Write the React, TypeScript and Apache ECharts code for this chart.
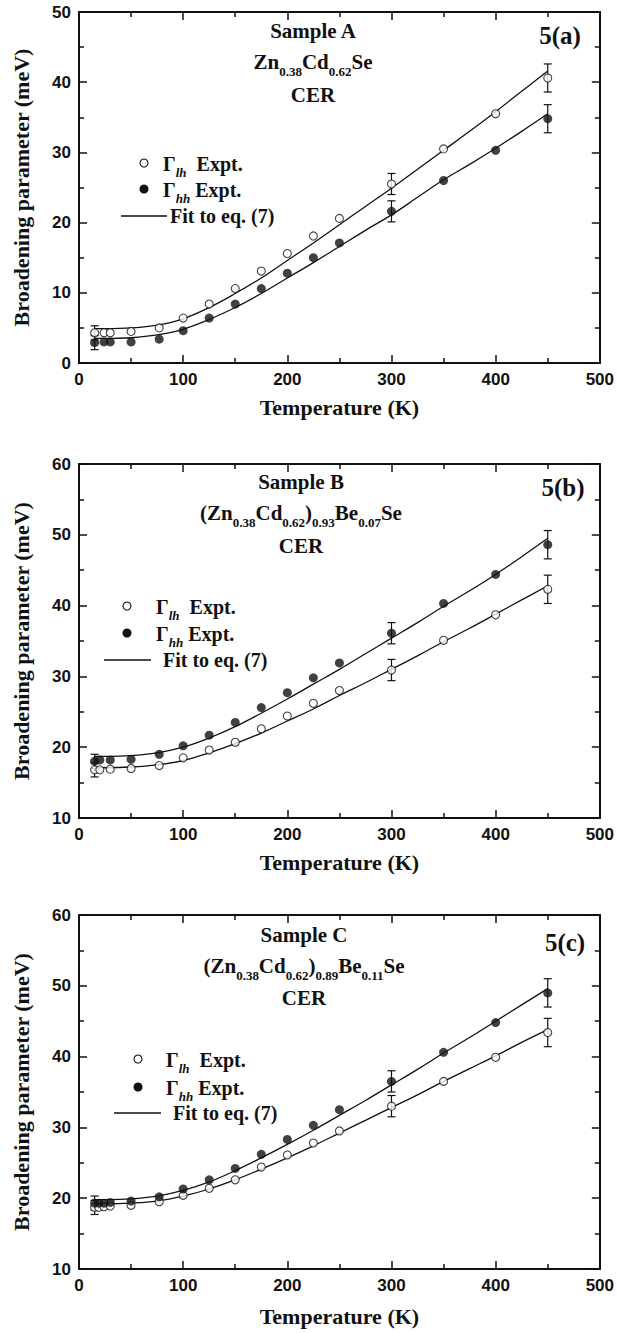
import React, { useEffect, useRef } from 'react';
import * as echarts from 'echarts';

// ---------- data ----------
const tempA = [15, 24, 30, 50, 77, 100, 125, 150, 175, 200, 225, 250, 300, 350, 400, 450];
const lhA = [4.3, 4.3, 4.3, 4.5, 5.0, 6.4, 8.4, 10.6, 13.1, 15.6, 18.1, 20.6, 25.5, 30.5, 35.5, 40.6];
const hhA = [2.9, 3.0, 3.0, 3.0, 3.4, 4.6, 6.4, 8.4, 10.6, 12.8, 15.0, 17.1, 21.6, 26.0, 30.3, 34.8];

const tempB = [15, 20, 30, 50, 77, 100, 125, 150, 175, 200, 225, 250, 300, 350, 400, 450];
const lhB = [16.8, 16.8, 16.9, 17.0, 17.4, 18.5, 19.6, 20.7, 22.6, 24.4, 26.2, 28.0, 30.9, 35.1, 38.7, 42.3];
const hhB = [18.0, 18.2, 18.2, 18.3, 19.0, 20.2, 21.7, 23.5, 25.6, 27.7, 29.8, 31.9, 36.1, 40.3, 44.4, 48.6];

const tempC = [15, 19, 24, 30, 50, 77, 100, 125, 150, 175, 200, 225, 250, 300, 350, 400, 450];
const lhC = [18.7, 18.7, 18.8, 18.9, 19.0, 19.5, 20.4, 21.4, 22.6, 24.4, 26.1, 27.8, 29.5, 33.0, 36.5, 39.9, 43.4];
const hhC = [19.3, 19.3, 19.3, 19.4, 19.6, 20.2, 21.3, 22.6, 24.2, 26.2, 28.3, 30.3, 32.5, 36.5, 40.6, 44.8, 49.0];

const fitTemp = [15, 25, 50, 75, 100, 125, 150, 175, 200, 225, 250, 275, 300, 325, 350, 375, 400, 425, 450];
const fitLhA = [4.9, 4.9, 5.0, 5.4, 6.3, 7.9, 9.9, 12.1, 14.6, 17.1, 19.7, 22.3, 24.9, 27.6, 30.3, 33.0, 35.8, 38.7, 41.6];
const fitHhA = [3.5, 3.5, 3.6, 4.0, 4.8, 6.2, 7.9, 9.9, 12.1, 14.3, 16.6, 18.9, 21.1, 23.6, 26.1, 28.3, 30.6, 33.0, 35.5];
const fitLhB = [17.1, 17.1, 17.2, 17.5, 18.1, 19.2, 20.5, 22.0, 23.7, 25.4, 27.3, 29.1, 31.0, 32.9, 34.9, 36.8, 38.8, 40.8, 42.8];
const fitHhB = [18.7, 18.7, 18.8, 19.2, 20.0, 21.3, 22.9, 24.8, 26.8, 28.9, 31.0, 33.2, 35.4, 37.6, 39.9, 42.1, 44.4, 46.9, 49.5];
const fitLhC = [19.2, 19.2, 19.3, 19.6, 20.3, 21.3, 22.6, 24.1, 25.7, 27.4, 29.2, 31.0, 32.8, 34.6, 36.5, 38.3, 40.1, 42.0, 43.8];
const fitHhC = [19.8, 19.8, 19.9, 20.3, 21.1, 22.3, 23.9, 25.7, 27.6, 29.6, 31.7, 33.8, 36.0, 38.2, 40.5, 42.7, 45.0, 47.3, 49.6];

const errTemp = [15, 300, 450];
const errSize = [1.0, 1.5, 2.0];

const xTicks = { min: 0, max: 500, interval: 100 };
const yRangeA = { min: 0, max: 50, interval: 10 };
const yRangeB = { min: 10, max: 60, interval: 10 };
const yRangeC = { min: 10, max: 60, interval: 10 };

const panelLabels = ['5(a)', '5(b)', '5(c)'];
const sampleNames = ['Sample A', 'Sample B', 'Sample C'];
const methodLabel = 'CER';
const xTitle = 'Temperature (K)';
const yTitle = 'Broadening parameter (meV)';
const legendLh = 'Expt.';
const legendFit = 'Fit to eq. (7)';

// ---------- style ----------
const INK = '#111111';
const SERIF = '"Liberation Serif", "Times New Roman", serif';
const SANS = '"Liberation Sans", Arial, sans-serif';

const grids = [
  { left: 79, top: 12, width: 521, height: 351 },
  { left: 79, top: 464, width: 521, height: 354 },
  { left: 79, top: 915, width: 521, height: 354 },
];

const panels = [
  { t: tempA, lh: lhA, hh: hhA, fLh: fitLhA, fHh: fitHhA, y: yRangeA },
  { t: tempB, lh: lhB, hh: hhB, fLh: fitLhB, fHh: fitHhB, y: yRangeB },
  { t: tempC, lh: lhC, hh: hhC, fLh: fitLhC, fHh: fitHhC, y: yRangeC },
];

const formulaRich = [
  '{m|Zn}{s|0.38}{m|Cd}{s|0.62}{m|Se}',
  '{m|(Zn}{s|0.38}{m|Cd}{s|0.62}{m|)}{s|0.93}{m|Be}{s|0.07}{m|Se}',
  '{m|(Zn}{s|0.38}{m|Cd}{s|0.62}{m|)}{s|0.89}{m|Be}{s|0.11}{m|Se}',
];

// annotation layout (pixels)
const annot = [
  { cx: 313, sY: 31, fY: 62, cY: 95, lx: 560, ly: 35, legX: 144, legY: [163, 189, 216], lineX: [121, 167], textX: 160 },
  { cx: 301, sY: 482, fY: 513, cY: 546, lx: 563, ly: 487, legX: 127, legY: [606, 633, 660], lineX: [104, 151], textX: 153 },
  { cx: 304, sY: 935, fY: 966, cY: 998, lx: 565, ly: 942, legX: 138, legY: [1059, 1087, 1113], lineX: [114, 161], textX: 163 },
];

function axisCommon(extra: any) {
  return {
    type: 'value',
    splitLine: { show: false },
    axisLine: { show: true, onZero: false, lineStyle: { color: INK, width: 2 } },
    axisTick: { show: true, inside: true, length: 8, lineStyle: { color: INK, width: 1.5 } },
    minorTick: { show: true, splitNumber: 2, length: 5, lineStyle: { color: INK, width: 1.5 } },
    ...extra,
  };
}

function buildOption() {
  const xAxis: any[] = [];
  const yAxis: any[] = [];
  const series: any[] = [];
  const graphic: any[] = [];

  panels.forEach((p, i) => {
    xAxis.push(
      axisCommon({
        gridIndex: i,
        position: 'bottom',
        ...xTicks,
        axisLabel: { margin: 8, color: INK, fontFamily: SANS, fontWeight: 'bold', fontSize: 17 },
        name: xTitle,
        nameLocation: 'middle',
        nameGap: i === 2 ? 36 : 33,
        nameTextStyle: { color: INK, fontFamily: SERIF, fontWeight: 'bold', fontSize: 22 },
      })
    );
    xAxis.push(
      axisCommon({ gridIndex: i, position: 'top', ...xTicks, axisLabel: { show: false } })
    );
    yAxis.push(
      axisCommon({
        gridIndex: i,
        position: 'left',
        ...p.y,
        axisLabel: { margin: 8, color: INK, fontFamily: SANS, fontWeight: 'bold', fontSize: 17 },
        name: yTitle,
        nameLocation: 'middle',
        nameGap: 47,
        nameTextStyle: { color: INK, fontFamily: SERIF, fontWeight: 'bold', fontSize: 22 },
      })
    );
    yAxis.push(
      axisCommon({ gridIndex: i, position: 'right', ...p.y, axisLabel: { show: false } })
    );

    const xi = i * 2;
    const yi = i * 2;

    const errData: number[][] = [];
    errTemp.forEach((t, k) => {
      const idx = p.t.indexOf(t);
      errData.push([t, p.lh[idx] - errSize[k], p.lh[idx] + errSize[k]]);
      errData.push([t, p.hh[idx] - errSize[k], p.hh[idx] + errSize[k]]);
    });

    series.push({
      type: 'line',
      xAxisIndex: xi,
      yAxisIndex: yi,
      data: fitTemp.map((t, k) => [t, p.fLh[k]]),
      smooth: 0.4,
      showSymbol: false,
      lineStyle: { color: INK, width: 1.3 },
      z: 2,
    });
    series.push({
      type: 'line',
      xAxisIndex: xi,
      yAxisIndex: yi,
      data: fitTemp.map((t, k) => [t, p.fHh[k]]),
      smooth: 0.4,
      showSymbol: false,
      lineStyle: { color: INK, width: 1.3 },
      z: 2,
    });
    series.push({
      type: 'custom',
      xAxisIndex: xi,
      yAxisIndex: yi,
      data: errData,
      z: 3,
      renderItem: (params: any, api: any) => {
        const x = api.value(0);
        const lo = api.coord([x, api.value(1)]);
        const hi = api.coord([x, api.value(2)]);
        const w = 4;
        const st = { stroke: INK, lineWidth: 1.2 };
        return {
          type: 'group',
          children: [
            { type: 'line', shape: { x1: lo[0], y1: lo[1], x2: hi[0], y2: hi[1] }, style: st },
            { type: 'line', shape: { x1: lo[0] - w, y1: lo[1], x2: lo[0] + w, y2: lo[1] }, style: st },
            { type: 'line', shape: { x1: hi[0] - w, y1: hi[1], x2: hi[0] + w, y2: hi[1] }, style: st },
          ],
        };
      },
    });
    series.push({
      type: 'scatter',
      xAxisIndex: xi,
      yAxisIndex: yi,
      data: p.t.map((t, k) => [t, p.lh[k]]),
      symbol: 'circle',
      symbolSize: 8,
      itemStyle: { color: '#ffffff', borderColor: INK, borderWidth: 1.1 },
      z: 4,
    });
    series.push({
      type: 'scatter',
      xAxisIndex: xi,
      yAxisIndex: yi,
      data: p.t.map((t, k) => [t, p.hh[k]]),
      symbol: 'circle',
      symbolSize: 9,
      itemStyle: { color: INK, borderWidth: 0 },
      z: 4,
    });

    // annotations
    const a = annot[i];
    const mainFont = { fill: INK, fontFamily: SERIF, fontWeight: 'bold' };
    graphic.push({
      type: 'text',
      x: a.cx,
      y: a.sY,
      style: { ...mainFont, text: sampleNames[i], fontSize: 21, lineHeight: 20, align: 'center', verticalAlign: 'middle' },
    });
    graphic.push({
      type: 'text',
      x: a.cx,
      y: a.fY,
      style: {
        ...mainFont,
        text: formulaRich[i],
        fontSize: 21,
        align: 'center',
        verticalAlign: 'middle',
        rich: {
          m: { ...mainFont, fontSize: 21, lineHeight: 20 },
          s: { ...mainFont, fontSize: 13, lineHeight: 10, padding: [19, 0, 0, 0] },
        },
      },
    });
    graphic.push({
      type: 'text',
      x: a.cx,
      y: a.cY,
      style: { ...mainFont, text: methodLabel, fontSize: 21, lineHeight: 20, align: 'center', verticalAlign: 'middle' },
    });
    graphic.push({
      type: 'text',
      x: a.lx,
      y: a.ly,
      style: { ...mainFont, text: panelLabels[i], fontSize: 25, align: 'center', verticalAlign: 'middle' },
    });

    // legend
    graphic.push({
      type: 'circle',
      shape: { cx: a.legX, cy: a.legY[0], r: 4 },
      style: { fill: '#fff', stroke: INK, lineWidth: 1.1 },
    });
    graphic.push({
      type: 'circle',
      shape: { cx: a.legX, cy: a.legY[1], r: 4.5 },
      style: { fill: INK },
    });
    graphic.push({
      type: 'line',
      shape: { x1: a.lineX[0], y1: a.legY[2], x2: a.lineX[1], y2: a.legY[2] },
      style: { stroke: INK, lineWidth: 1.3 },
    });
    const legRich = {
      m: { ...mainFont, fontSize: 20, lineHeight: 20 },
      s: { ...mainFont, fontStyle: 'italic', fontSize: 13, lineHeight: 10, padding: [17, 0, 0, 0] },
    };
    graphic.push({
      type: 'text',
      x: a.textX + 3,
      y: a.legY[0] + 1,
      style: { ...mainFont, text: '{m|Γ}{s|lh}{m|  ' + legendLh + '}', fontSize: 20, verticalAlign: 'middle', rich: legRich },
    });
    graphic.push({
      type: 'text',
      x: a.textX + 3,
      y: a.legY[1] + 1,
      style: { ...mainFont, text: '{m|Γ}{s|hh}{m| ' + legendLh + '}', fontSize: 20, verticalAlign: 'middle', rich: legRich },
    });
    graphic.push({
      type: 'text',
      x: a.textX + 10,
      y: a.legY[2],
      style: { ...mainFont, text: legendFit, fontSize: 20, lineHeight: 18, verticalAlign: 'middle' },
    });
  });

  return {
    animation: false,
    backgroundColor: '#ffffff',
    grid: grids.map((g) => ({ ...g, containLabel: false })),
    xAxis,
    yAxis,
    series,
    graphic,
  };
}

export default function App() {
  const ref = useRef<HTMLDivElement>(null);
  useEffect(() => {
    if (!ref.current) return;
    const chart = echarts.init(ref.current, undefined, { renderer: 'svg' });
    chart.setOption(buildOption() as any);
    return () => chart.dispose();
  }, []);
  return (
    <div
      ref={ref}
      style={{ position: 'absolute', left: 0, top: 0, width: 617, height: 1333, background: '#fff' }}
    />
  );
}
